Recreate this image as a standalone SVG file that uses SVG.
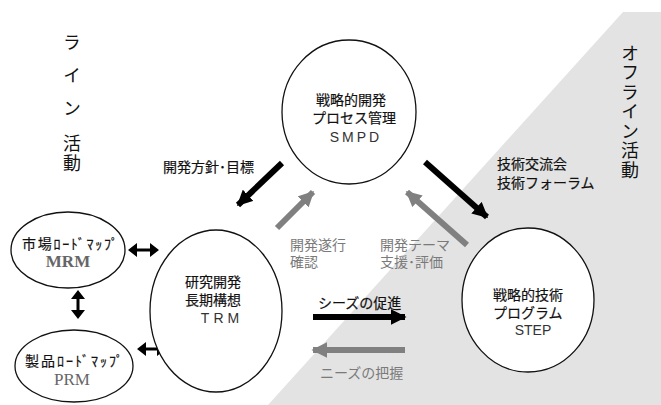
<svg xmlns="http://www.w3.org/2000/svg" width="661" height="405" viewBox="0 0 661 405">
<style>
.jp{font-family:"Liberation Sans","Noto Sans CJK JP",sans-serif;font-size:14px;fill:#111;stroke:#111;stroke-width:0.2}
.g{fill:#7a7a7a;stroke:none}
.v{font-family:"Noto Sans CJK JP",sans-serif;font-size:18px;writing-mode:vertical-rl;stroke:none}
.node{fill:#fff;stroke:#111;stroke-width:1.3}
.en{font-family:"Liberation Sans",Arial,sans-serif;font-size:14px;fill:#333}
.ser{font-family:"Liberation Serif","Times New Roman",serif;font-size:17px;fill:#666}
.bk{stroke:#000;stroke-width:6;fill:none}
.gr{stroke:#808080;stroke-width:6;fill:none}
.dbl{fill:#000}
</style>
<defs>
<marker id="hb" viewBox="0 0 10 10" refX="9" refY="5" markerWidth="2.6" markerHeight="2.6" orient="auto" markerUnits="strokeWidth"><path d="M0,0L10,5L0,10z" fill="#000"/></marker>
<marker id="hg" viewBox="0 0 10 10" refX="9" refY="5" markerWidth="2.6" markerHeight="2.6" orient="auto" markerUnits="strokeWidth"><path d="M0,0L10,5L0,10z" fill="#808080"/></marker>
</defs>
<rect width="661" height="405" fill="#fff"/>
<polygon points="623,12 661,12 661,405 268,405" fill="#e3e3e3"/>

<text class="jp v" x="72" y="33" letter-spacing="15">ライン</text>
<text class="jp v" x="72" y="134" letter-spacing="2">活動</text>
<text class="jp v" x="630" y="44" letter-spacing="1.5">オフライン活動</text>

<g id="connectors">
<line class="bk" x1="282" y1="163" x2="238" y2="205" marker-end="url(#hb)"/>
<line class="gr" x1="277" y1="228" x2="313" y2="192" marker-end="url(#hg)"/>
<line class="bk" x1="425" y1="162" x2="487" y2="217" marker-end="url(#hb)"/>
<line class="gr" x1="467" y1="245" x2="407" y2="192" marker-end="url(#hg)"/>
<line class="bk" x1="313" y1="317" x2="405" y2="317" stroke-width="5" marker-end="url(#hb)"/>
<line class="gr" x1="405" y1="350" x2="313" y2="350" stroke-width="5" marker-end="url(#hg)"/>
<polygon class="dbl" points="128,250 137,243 137,248.5 150,248.5 150,243 159,250 150,257 150,251.5 137,251.5 137,257"/>
<polygon class="dbl" points="137,349 146,342 146,347.5 157,347.5 157,342 166,349 157,356 157,350.5 146,350.5 146,356"/>
<polygon class="dbl" points="78,290 85,299 79.5,299 79.5,310 85,310 78,319 71,310 76.5,310 76.5,299 71,299"/>
<text class="jp" x="163" y="172">開発方針･目標</text>
<text class="jp"><tspan x="497" y="169">技術交流会</tspan><tspan x="497" y="188">技術フォーラム</tspan></text>
<text class="jp g"><tspan x="290" y="250">開発遂行</tspan><tspan x="290" y="267">確認</tspan></text>
<text class="jp g"><tspan x="380" y="250">開発テーマ</tspan><tspan x="380" y="267">支援･評価</tspan></text>
<text class="jp" x="318" y="308">シーズの促進</text>
<text class="jp g" x="320" y="378">ニーズの把握</text>
</g>

<g id="smpd">
<ellipse class="node" cx="349" cy="112" rx="67" ry="72"/>
<text class="jp"><tspan x="316" y="105">戦略的開発</tspan><tspan x="312" y="123">プロセス管理</tspan></text>
<text class="en" x="356" y="142" text-anchor="middle" letter-spacing="3">SMPD</text>
</g>

<g id="trm">
<ellipse class="node" cx="216" cy="311" rx="66" ry="81"/>
<text class="jp"><tspan x="185" y="287">研究開発</tspan><tspan x="185" y="305">長期構想</tspan></text>
<text class="en" x="222" y="323" text-anchor="middle" letter-spacing="4">TRM</text>
</g>

<g id="step">
<ellipse class="node" cx="528" cy="300" rx="66" ry="72"/>
<text class="jp"><tspan x="493" y="300">戦略的技術</tspan><tspan x="493" y="318">プログラム</tspan></text>
<text class="en" x="533" y="335" text-anchor="middle">STEP</text>
</g>

<g id="mrm">
<ellipse class="node" cx="68" cy="250" rx="57" ry="38"/>
<text class="jp" x="22" y="249" font-size="16" textLength="96" lengthAdjust="spacing">市場ﾛｰﾄﾞﾏｯﾌﾟ</text>
<text class="ser" x="68" y="267" text-anchor="middle" font-weight="bold" font-size="16">MRM</text>
</g>

<g id="prm">
<ellipse class="node" cx="74" cy="366" rx="59" ry="36"/>
<text class="jp" x="25" y="366" font-size="16" textLength="98" lengthAdjust="spacing">製品ﾛｰﾄﾞﾏｯﾌﾟ</text>
<text class="ser" x="72" y="385" text-anchor="middle" font-size="16">PRM</text>
</g>
</svg>
